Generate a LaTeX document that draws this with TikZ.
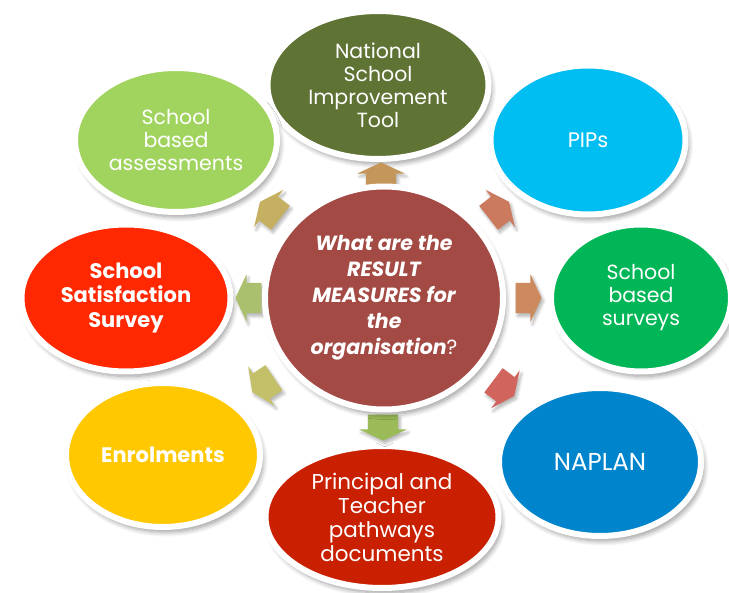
\documentclass[tikz,border=0pt]{standalone}
\usepackage{fontspec}
\setmainfont{Poppins}
\usetikzlibrary{shapes.geometric, shapes.arrows, shadows.blur}

\definecolor{toolgreen}{RGB}{95,115,52}
\definecolor{pipsblue}{RGB}{0,189,242}
\definecolor{surveygreen}{RGB}{0,182,86}
\definecolor{naplanblue}{RGB}{0,132,204}
\definecolor{pathred}{RGB}{201,32,2}
\definecolor{enrolyellow}{RGB}{255,200,0}
\definecolor{satisred}{RGB}{255,40,0}
\definecolor{assessgreen}{RGB}{160,212,95}
\definecolor{hubred}{RGB}{163,74,68}

\begin{document}
\begin{tikzpicture}[x=1pt, y=-1pt,
    measure/.style={ellipse, draw=white, line width=6pt, inner sep=0pt, align=center, text=white, font=\fontsize{20.5}{23}\selectfont,
        blur shadow={shadow xshift=3pt, shadow yshift=-5pt, shadow blur steps=8, shadow blur radius=5pt, shadow opacity=40}},
    boldmeasure/.style={measure, font=\fontsize{21}{24.5}\selectfont\bfseries},
    hub/.style={ellipse, draw=white, line width=6pt, fill=hubred, inner sep=0pt, align=center, text=white, font=\fontsize{20.5}{26}\selectfont\bfseries\itshape,
        blur shadow={shadow xshift=3pt, shadow yshift=-5pt, shadow blur steps=8, shadow blur radius=5pt, shadow opacity=40}},
    pointer/.style={single arrow, minimum height=26pt, single arrow head extend=8.5pt, single arrow tip angle=130, inner xsep=0pt, inner ysep=15pt,
        blur shadow={shadow xshift=2pt, shadow yshift=-3pt, shadow blur steps=6, shadow blur radius=3pt, shadow opacity=30}}
]
    \useasboundingbox (0,0) rectangle (729,593);

    % Result measures round the hub
    \node[measure, fill=toolgreen, minimum width=221pt, minimum height=148pt] (tool) at (378,85) {National\\School\\Improvement\\Tool};
    \node[measure, fill=pipsblue, minimum width=195pt, minimum height=149pt, font=\fontsize{21}{25}\selectfont] (pips) at (588,140) {PIPs};
    \node[measure, fill=surveygreen, minimum width=180pt, minimum height=147pt] (surveys) at (641,298) {School\\based\\surveys};
    \node[measure, fill=naplanblue, minimum width=202pt, minimum height=148pt, font=\fontsize{24.5}{28}\selectfont] (naplan) at (600,462) {NAPLAN};
    \node[measure, fill=pathred, minimum width=233pt, minimum height=142pt, font=\fontsize{21.5}{24}\selectfont] (pathways) at (382,517) {Principal and\\Teacher\\pathways\\documents};
    \node[boldmeasure, fill=enrolyellow, minimum width=194pt, minimum height=144pt] (enrol) at (163,455) {Enrolments};
    \node[boldmeasure, fill=satisred, minimum width=209pt, minimum height=147pt] (satisfaction) at (126,298) {School\\Satisfaction\\Survey};
    \node[measure, fill=assessgreen, minimum width=202pt, minimum height=144pt] (assess) at (176,140) {School\\based\\assessments};

    % Block arrows pointing out
    \node[pointer, fill={rgb,255:red,196;green,150;blue,90}, rotate=90] (toTool) at (381,179) {};
    \node[pointer, fill={rgb,255:red,204;green,122;blue,94}, rotate=38] (toPips) at (496,212) {};
    \node[pointer, fill={rgb,255:red,205;green,138;blue,94}] (toSurveys) at (525,298) {};
    \node[pointer, fill={rgb,255:red,210;green,100;blue,94}, rotate=-37] (toNaplan) at (501,386) {};
    \node[pointer, fill={rgb,255:red,155;green,187;blue,89}, rotate=-90] (toPathways) at (383,424) {};
    \node[pointer, fill={rgb,255:red,196;green,192;blue,106}, rotate=214] (toEnrol) at (266,383) {};
    \node[pointer, fill={rgb,255:red,170;green,192;blue,110}, rotate=180] (toSatisfaction) at (252,298) {};
    \node[pointer, fill={rgb,255:red,196;green,176;blue,96}, rotate=142] (toAssess) at (273,212) {};

    % Centre question
    \node[hub, minimum width=238pt, minimum height=223pt] (question) at (384,298) {What are the\\RESULT\\MEASURES for\\the\\organisation{\normalfont ?}};
\end{tikzpicture}
\end{document}
